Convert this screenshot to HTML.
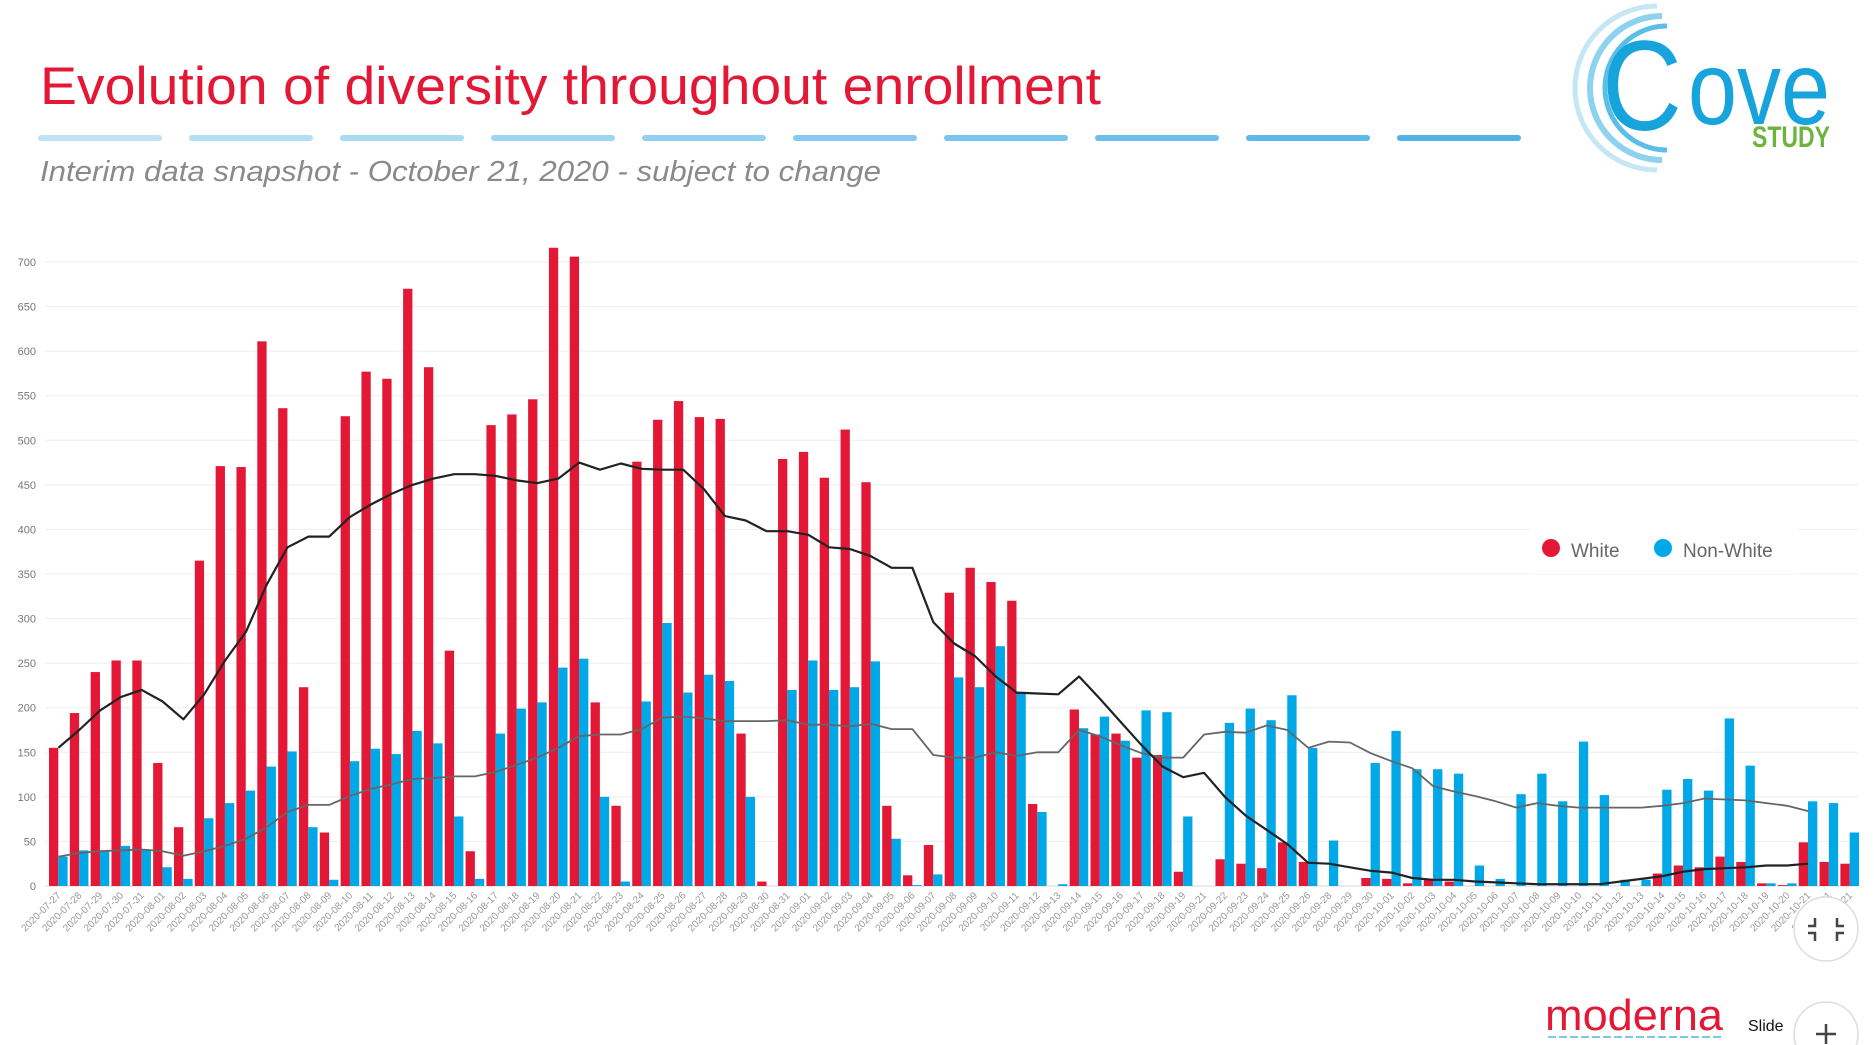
<!DOCTYPE html>
<html><head><meta charset="utf-8"><style>
html,body{margin:0;padding:0;background:#fff;}
svg{display:block;font-family:"Liberation Sans",sans-serif;}
</style></head><body>
<svg id="chart" width="1874" height="1045" viewBox="0 0 1874 1045" xmlns="http://www.w3.org/2000/svg">
<text x="40" y="104" font-size="53" fill="#e31837" textLength="1061" lengthAdjust="spacingAndGlyphs">Evolution of diversity throughout enrollment</text>
<g id="dashes"></g>
<text x="40" y="181" font-size="29" font-style="italic" fill="#8a8a8a" textLength="841" lengthAdjust="spacingAndGlyphs">Interim data snapshot - October 21, 2020 - subject to change</text>
<g>
  <path d="M1657 6 A82 82 0 1 0 1657 170" fill="none" stroke="#c4e6f6" stroke-width="5"/>
  <path d="M1662 16 A72 72 0 1 0 1662 160" fill="none" stroke="#8dd2f0" stroke-width="6"/>
  <path d="M1667 26 A62 62 0 1 0 1667 150" fill="none" stroke="#5cbde8" stroke-width="5"/>
  <text x="1602" y="130" font-size="128" fill="#17a3dc" textLength="80" lengthAdjust="spacingAndGlyphs">C</text>
  <text x="1688" y="124" font-size="104" fill="#17a3dc" textLength="142" lengthAdjust="spacingAndGlyphs">ove</text>
  <text x="1752" y="147" font-size="30" font-weight="bold" fill="#6db33f" textLength="78" lengthAdjust="spacingAndGlyphs">STUDY</text>
</g>
<g id="grid"></g>
<g id="yticks"></g>
<g id="bars"></g>
<g id="lines"></g>
<g id="xticks"></g>
<g>
  <rect x="1530" y="526" width="268" height="48" fill="#fff"/>
  <g><circle cx="1551" cy="548" r="9" fill="#e31837"/><text x="1571" y="557" font-size="19" fill="#666">White</text></g>
  <g><circle cx="1663" cy="548" r="9" fill="#00a8e8"/><text x="1683" y="557" font-size="19" fill="#666">Non-White</text></g>
</g>
<g>
  <text x="1545" y="1030" font-size="44" fill="#e31837" textLength="178" lengthAdjust="spacingAndGlyphs">moderna</text>
  <line x1="1548" y1="1037" x2="1722" y2="1037" stroke="#7fc6e8" stroke-width="2" stroke-dasharray="8 3"/>
</g>
<text x="1748" y="1031" font-size="16" fill="#111">Slide</text>
<g>
  <circle cx="1826" cy="929" r="32" fill="#fff" stroke="#ddd" stroke-width="1.5"/>
  <path d="M1815 918 v8 h-7 M1837 918 v8 h7 M1815 941 v-8 h-7 M1837 941 v-8 h7" fill="none" stroke="#444" stroke-width="2.5"/>
</g>
<g>
  <circle cx="1826" cy="1034" r="32" fill="#fff" stroke="#ddd" stroke-width="1.5"/>
  <path d="M1826 1024 v20 M1816 1034 h20" stroke="#444" stroke-width="2.5"/>
</g>
</svg>
<script>
const categories=["2020-07-27","2020-07-28","2020-07-29","2020-07-30","2020-07-31","2020-08-01","2020-08-02","2020-08-03","2020-08-04","2020-08-05","2020-08-06","2020-08-07","2020-08-08","2020-08-09","2020-08-10","2020-08-11","2020-08-12","2020-08-13","2020-08-14","2020-08-15","2020-08-16","2020-08-17","2020-08-18","2020-08-19","2020-08-20","2020-08-21","2020-08-22","2020-08-23","2020-08-24","2020-08-25","2020-08-26","2020-08-27","2020-08-28","2020-08-29","2020-08-30","2020-08-31","2020-09-01","2020-09-02","2020-09-03","2020-09-04","2020-09-05","2020-09-06","2020-09-07","2020-09-08","2020-09-09","2020-09-10","2020-09-11","2020-09-12","2020-09-13","2020-09-14","2020-09-15","2020-09-16","2020-09-17","2020-09-18","2020-09-19","2020-09-21","2020-09-22","2020-09-23","2020-09-24","2020-09-25","2020-09-26","2020-09-28","2020-09-29","2020-09-30","2020-10-01","2020-10-02","2020-10-03","2020-10-04","2020-10-05","2020-10-06","2020-10-07","2020-10-08","2020-10-09","2020-10-10","2020-10-11","2020-10-12","2020-10-13","2020-10-14","2020-10-15","2020-10-16","2020-10-17","2020-10-18","2020-10-19","2020-10-20","2020-10-21","2020-10-21","2020-10-21"];
const whiteCounts=[155,194,240,253,253,138,66,365,471,470,611,536,223,60,527,577,569,670,582,264,39,517,529,546,716,706,206,90,476,523,544,526,524,171,5,479,487,458,512,453,90,12,46,329,357,341,320,92,0,198,170,171,144,147,16,0,30,25,20,49,27,0,0,9,8,3,7,5,0,0,0,0,0,0,0,0,0,14,23,21,33,27,3,1,49,27,25];
const nonWhiteCounts=[33,40,40,45,40,21,8,76,93,107,134,151,66,7,140,154,148,174,160,78,8,171,199,206,245,255,100,5,207,295,217,237,230,100,0,220,253,220,223,252,53,1,13,234,223,269,217,83,2,177,190,163,197,195,78,0,183,199,186,214,155,51,0,138,174,131,131,126,23,8,103,126,95,162,102,7,7,108,120,107,188,135,3,3,95,93,60];
const whiteAvg=[155,175,197,212,220,207,187,215,253,285,338,380,392,392,414,428,440,450,457,462,462,460,455,452,457,475,467,474,468,467,467,445,415,410,398,398,394,380,378,370,357,357,296,272,258,235,217,216,215,235,210,184,158,134,122,127,100,79,63,47,26,25,21,17,15,9,7,7,5,4,3,2,2,2,2,5,8,11,16,19,20,21,23,23,25];
const nonWhiteAvg=[33,37,39,40,41,39,34,39,45,53,66,83,91,91,101,109,114,120,121,123,123,128,136,144,155,168,170,170,176,189,190,188,185,185,185,186,181,181,179,182,176,176,147,144,144,150,146,150,150,175,168,158,149,144,144,170,173,172,180,175,155,162,161,149,140,132,112,106,101,95,88,93,90,88,88,88,88,90,93,98,97,96,93,90,84];
const yTicks=[0,50,100,150,200,250,300,350,400,450,500,550,600,650,700];

const NS="http://www.w3.org/2000/svg";
const X0=48, CW=20.83, Y0=886, YPER=(886-262)/700;
const xBand=i=>X0+i*CW;
const yScale=v=>Y0-v*YPER;
function mk(tag,attrs,parent){const e=document.createElementNS(NS,tag);for(const k in attrs)e.setAttribute(k,attrs[k]);parent.appendChild(e);return e;}

const dashes=document.getElementById('dashes');
const dashCols=["#bfe4f4","#b3dff3","#a8daf2","#9dd5f1","#91d0f0","#86cbef","#79c5ed","#6cbfea","#5fb9e8","#52b3e6"];
for(let i=0;i<10;i++){
  const l=mk('line',{x1:41+i*151,y1:138,x2:41+i*151+118,y2:138,stroke:dashCols[i],'stroke-width':6,'stroke-linecap':'round'},dashes);
  
  
}

const grid=document.getElementById('grid'), yt=document.getElementById('yticks');
yTicks.forEach(t=>{
  const l=mk('line',{x1:45,x2:1858,y1:yScale(t),y2:yScale(t),stroke:t===0?'#ddd':'#f0f0f0','stroke-width':1.2},grid);
  
  
  const tx=mk('text',{x:36,y:yScale(t)+4,'font-size':11,fill:'#777','text-anchor':'end'},yt);
  tx.textContent=t;
  
  
});

const bars=document.getElementById('bars'), xt=document.getElementById('xticks');
const BW=9.3;
categories.forEach((c,i)=>{
  const x=xBand(i)+1;
  const w=whiteCounts[i], n=nonWhiteCounts[i];
  if(w>0){const r=mk('rect',{x:x,y:yScale(w),width:BW,height:Y0-yScale(w),fill:'#e31837'},bars);
    
    }
  if(n>0){const r=mk('rect',{x:x+BW,y:yScale(n),width:BW,height:Y0-yScale(n),fill:'#00a8e8'},bars);
    
    }
  const cx=xBand(i)+CW/2+3;
  const t=mk('text',{x:cx,y:896,'font-size':10,fill:'#999','text-anchor':'end',transform:`rotate(-45 ${cx} 896)`},xt);
  t.textContent=c;
  
  
});

const lines=document.getElementById('lines');
function path(arr,col,wd,name){
  const d=arr.map((v,i)=>(i?'L':'M')+(xBand(i)+CW/2).toFixed(1)+' '+yScale(v).toFixed(1)).join(' ');
  const p=mk('path',{d:d,fill:'none',stroke:col,'stroke-width':wd,'stroke-linejoin':'round'},lines);
  
  
}
path(nonWhiteAvg,'#666',1.8,'non-white-average-line');
path(whiteAvg,'#222',2.2,'white-average-line');
</script>
</body></html>
